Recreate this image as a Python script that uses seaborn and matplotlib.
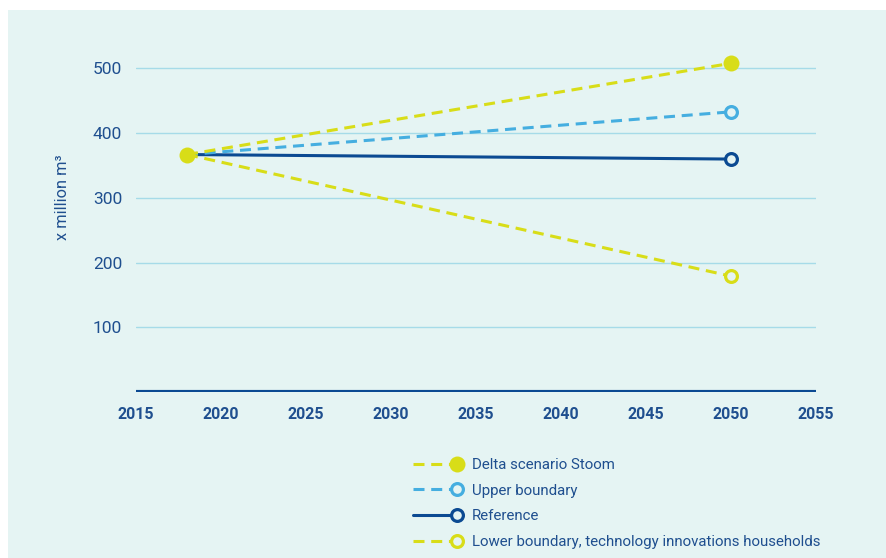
"""
Water demand scenarios 2018 -> 2050 (x million m3).
"""

import pandas as pd
import matplotlib.pyplot as plt
import seaborn as sns
from matplotlib.patches import Rectangle
from matplotlib.legend_handler import HandlerLine2D

sns.set_theme(style="white")
plt.rcParams["font.family"] = ["Roboto", "DejaVu Sans"]

# ── Data ─────────────────────────────────────────────────────────────────────
years = [2018, 2050]
delta_stoom = [367, 508]
upper_boundary = [367, 433]
reference = [367, 360]
lower_boundary = [367, 179]

labels = ["Delta scenario Stoom", "Upper boundary", "Reference",
          "Lower boundary, technology innovations households"]
x_ticks = [2015, 2020, 2025, 2030, 2035, 2040, 2045, 2050, 2055]
y_ticks = [100, 200, 300, 400, 500]

# ── Colours ──────────────────────────────────────────────────────────────────
BG = "#e5f4f3"
TEXT = "#1f4f8f"
DARK = "#0b4a92"
LIGHT = "#45aee0"
YELLOW = "#d8dd18"
GRID = "#a6dbe8"


class EndMarker(HandlerLine2D):
    """Legend handle with the marker at the right-hand end."""
    def create_artists(self, *args, **kwargs):
        artists = super().create_artists(*args, **kwargs)
        for a in artists:
            a.set_markevery([2])
        return artists


fig = plt.figure(figsize=(8.86, 5.58), dpi=100, facecolor="white")
fig.patches.append(Rectangle((8 / 886, 0), 1, 548 / 558, transform=fig.transFigure,
                             facecolor=BG, edgecolor="none", zorder=-10))
ax = fig.add_axes([136 / 886, 166 / 558, 680 / 886, 349.4 / 558])
ax.set_facecolor("none")

DASH = (0, (3.6, 2.2))
series = [
    (reference, labels[2], DARK, "-", False, 2),
    (upper_boundary, labels[1], LIGHT, DASH, False, 3),
    (lower_boundary, labels[3], YELLOW, DASH, False, 4),
    (delta_stoom, labels[0], YELLOW, DASH, True, 5),
]
for vals, lab, col, ls, filled, z in series:
    df = pd.DataFrame({"year": years, "value": vals})
    sns.lineplot(data=df, x="year", y="value", ax=ax, color=col, linestyle=ls,
                 linewidth=2.2, marker="o", markersize=11.5 if filled else 8.5,
                 markerfacecolor=col if filled else BG, markeredgecolor=col,
                 markeredgewidth=0 if filled else 2.3,
                 markevery=None if filled else [1], label=lab, zorder=z)

ax.axhline(0, color=DARK, linewidth=3.0, zorder=3)
for y in y_ticks:
    ax.axhline(y, color=GRID, linewidth=1.0, zorder=1)

ax.set_xlim(2015, 2055)
ax.set_ylim(0, 540)
ax.set_xticks(x_ticks)
ax.set_yticks(y_ticks)
ax.tick_params(axis="both", length=0, labelcolor=TEXT)
ax.tick_params(axis="x", pad=11, labelsize=11.5)
ax.tick_params(axis="y", pad=10, labelsize=12.5)
for t in ax.get_xticklabels():
    t.set_fontweight("bold")
for s in ax.spines.values():
    s.set_visible(False)
ax.grid(False)
ax.set_xlabel("")
ax.set_ylabel("x million m³", color=TEXT, fontsize=11.8)
ax.yaxis.set_label_coords(-0.097, 0.558)

handles, labs = ax.get_legend_handles_labels()
order = [labs.index(l) for l in labels]
leg = ax.legend([handles[i] for i in order], [labs[i] for i in order],
                loc="upper left", bbox_to_anchor=(413 / 886, 1 - 458 / 558),
                bbox_transform=fig.transFigure, frameon=False, fontsize=10.8,
                labelcolor=TEXT, handlelength=2.9, handletextpad=1.0,
                labelspacing=0.78, borderpad=0, borderaxespad=0, numpoints=1,
                handler_map={h: EndMarker() for h in handles})

fig.savefig("out.png", dpi=100)
